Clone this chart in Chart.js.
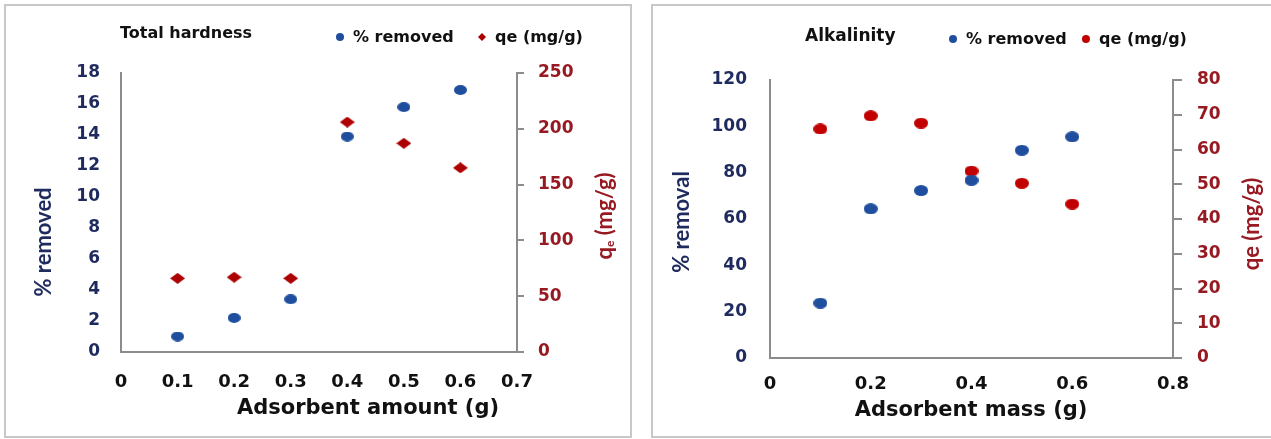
<!DOCTYPE html>
<html>
<head>
<meta charset="utf-8">
<script src="https://cdn.jsdelivr.net/npm/chart.js@4.4.1/dist/chart.umd.min.js"></script>
<style>
  body { margin: 0; background: #fff; width: 1271px; height: 439px; overflow: hidden; position: relative; }
  .panel { position: absolute; top: 4px; height: 430px; border: 2px solid #c8c8c8; background: #fff; }
  #p1 { left: 4px; width: 624px; }
  #p2 { left: 651px; width: 618px; }
  canvas { display: block; }
</style>
</head>
<body>
<div class="panel" id="p1"><canvas id="hardness" width="624" height="430"></canvas></div>
<div class="panel" id="p2"><canvas id="alkalinity" width="618" height="430"></canvas></div>
<script>
// adsorbent dose (g)
const dose = [0.1, 0.2, 0.3, 0.4, 0.5, 0.6];

// total hardness
const hardnessRemoved = [1.0, 2.2, 3.4, 13.9, 15.8, 16.9];
const hardnessQe = [66, 67, 66, 206, 187, 165];

// alkalinity
const alkalinityRemoved = [23.7, 64.4, 72.3, 76.7, 89.7, 95.5];
const alkalinityQe = [65.9, 69.7, 67.6, 53.8, 50.3, 44.3];

// axis ranges: [min, max, step]
const hardnessX = [0, 0.7, 0.1];
const hardnessY = [0, 18, 2];
const hardnessY1 = [0, 250, 50];
const alkalinityX = [0, 0.8, 0.2];
const alkalinityY = [0, 120, 20];
const alkalinityY1 = [0, 80, 10];

const BLUE = '#1f4e9e';
const RED = '#ad0000';
const RED2 = '#c20000';
const NAVY = '#1f2b5e';
const DARKRED = '#971a22';
const AXIS = '#8c8c8c';
const TXT = '#111111';
const WIDE = 'DejaVu Sans';
const NARROW = 'Lato';

const pts = (ys) => dose.map((x, i) => ({ x, y: ys[i] }));

// slightly flattened markers, drawn once and reused as point images
function marker(w, h, color, shape) {
  const c = document.createElement('canvas');
  c.width = w; c.height = h;
  const g = c.getContext('2d');
  g.fillStyle = color;
  g.beginPath();
  if (shape === 'diamond') {
    g.moveTo(w / 2, 0); g.lineTo(w, h / 2); g.lineTo(w / 2, h); g.lineTo(0, h / 2); g.closePath();
  } else {
    g.ellipse(w / 2, h / 2, w / 2, h / 2, 0, 0, Math.PI * 2);
  }
  g.fill();
  return c;
}

// caption, legend and axis titles drawn straight onto the canvas
const decor = {
  id: 'decor',
  afterDraw(chart, args, o) {
    const ctx = chart.ctx;
    ctx.save();
    ctx.textBaseline = 'middle';
    ctx.textAlign = 'left';

    ctx.font = o.captionFont;
    ctx.fillStyle = TXT;
    ctx.fillText(o.caption, o.captionAt[0], o.captionAt[1]);

    ctx.font = o.legendFont;
    chart.data.datasets.forEach((ds, i) => {
      const [x, y] = o.legendAt[i];
      ctx.fillStyle = ds.backgroundColor;
      Chart.helpers.drawPoint(ctx, { pointStyle: ds.legendStyle, radius: o.legendRadius, rotation: 0, borderWidth: 0 }, x, y);
      ctx.fillStyle = TXT;
      ctx.fillText(ds.label, x + 13, y + 1);
    });

    o.titles.forEach(t => {
      ctx.save();
      ctx.translate(t.x, t.y);
      if (t.vertical) ctx.rotate(-Math.PI / 2);
      ctx.fillStyle = t.color;
      let w = 0;
      t.parts.forEach(p => { ctx.font = p.font; w += ctx.measureText(p.text).width; });
      let cx = -w / 2;
      t.parts.forEach(p => {
        ctx.font = p.font;
        ctx.fillText(p.text, cx, p.dy || 0);
        cx += ctx.measureText(p.text).width;
      });
      ctx.restore();
    });
    ctx.restore();
  }
};

function makeScales(xr, yr, y1r, g) {
  return {
    x: {
      type: 'linear', position: 'bottom', min: xr[0], max: xr[1],
      ticks: { stepSize: xr[2], color: TXT, padding: g.xPad, font: { family: WIDE, weight: 'bold', size: 18 } },
      grid: { display: false, drawTicks: false },
      border: { display: true, color: AXIS, width: 2 },
      afterFit: s => { s.height = g.xH; }
    },
    y: {
      type: 'linear', position: 'left', min: yr[0], max: yr[1],
      ticks: { stepSize: yr[2], color: NAVY, padding: g.yPad, font: { family: WIDE, weight: 'bold', size: 17 } },
      grid: { display: false, drawTicks: false },
      border: { display: true, color: AXIS, width: 2 },
      afterFit: s => { s.width = g.yW; }
    },
    y1: {
      type: 'linear', position: 'right', min: y1r[0], max: y1r[1],
      ticks: { stepSize: y1r[2], color: DARKRED, padding: g.y1Pad, font: { family: WIDE, weight: 'bold', size: 17 } },
      grid: { display: true, drawOnChartArea: false, drawTicks: true, tickLength: g.tick, color: AXIS, lineWidth: 2 },
      border: { display: true, color: AXIS, width: 2 },
      afterFit: s => { s.width = g.y1W; }
    }
  };
}

const common = {
  responsive: false,
  animation: false,
  devicePixelRatio: 1,
  events: []
};

new Chart(document.getElementById('hardness'), {
  type: 'scatter',
  data: {
    datasets: [
      { label: '% removed', data: pts(hardnessRemoved), yAxisID: 'y', pointStyle: marker(13, 10, BLUE), legendStyle: 'circle', borderWidth: 0, backgroundColor: BLUE },
      { label: 'qe (mg/g)', data: pts(hardnessQe), yAxisID: 'y1', pointStyle: marker(15, 11, RED, 'diamond'), legendStyle: 'rectRot', borderWidth: 0, backgroundColor: RED }
    ]
  },
  options: {
    ...common,
    layout: { padding: { top: 67, left: 0, right: 0, bottom: 0 } },
    scales: makeScales(hardnessX, hardnessY, hardnessY1, { xH: 84, xPad: 20, yW: 115, yPad: 21, y1W: 113, y1Pad: 14, tick: 7 }),
    plugins: {
      legend: { display: false },
      tooltip: { enabled: false },
      decor: {
        caption: 'Total hardness',
        captionAt: [114, 28],
        captionFont: 'bold 16px "DejaVu Sans"',
        legendFont: 'bold 16px "DejaVu Sans"',
        legendRadius: 4,
        legendAt: [[334, 31], [476, 31]],
        titles: [
          { x: 362, y: 403, color: TXT, parts: [{ text: 'Adsorbent amount (g)', font: 'bold 21px "DejaVu Sans"' }] },
          { x: 38, y: 236, vertical: true, color: NAVY, parts: [{ text: '% removed', font: 'bold 22px ' + NARROW }] },
          { x: 599, y: 210, vertical: true, color: DARKRED, parts: [
            { text: 'q', font: 'bold 22px ' + NARROW },
            { text: 'e', font: 'bold 12px ' + NARROW, dy: 5 },
            { text: ' (mg/g)', font: 'bold 22px ' + NARROW }
          ] }
        ]
      }
    }
  },
  plugins: [decor]
});

new Chart(document.getElementById('alkalinity'), {
  type: 'scatter',
  data: {
    datasets: [
      { label: '% removed', data: pts(alkalinityRemoved), yAxisID: 'y', pointStyle: marker(14, 11, BLUE), legendStyle: 'circle', borderWidth: 0, backgroundColor: BLUE },
      { label: 'qe (mg/g)', data: pts(alkalinityQe), yAxisID: 'y1', pointStyle: marker(14, 11, RED2), legendStyle: 'circle', borderWidth: 0, backgroundColor: RED2 }
    ]
  },
  options: {
    ...common,
    layout: { padding: { top: 74, left: 0, right: 0, bottom: 0 } },
    scales: makeScales(alkalinityX, alkalinityY, alkalinityY1, { xH: 78, xPad: 16, yW: 117, yPad: 23, y1W: 98, y1Pad: 15, tick: 9 }),
    plugins: {
      legend: { display: false },
      tooltip: { enabled: false },
      decor: {
        caption: 'Alkalinity',
        captionAt: [152, 31],
        captionFont: 'bold 17px "DejaVu Sans"',
        legendFont: 'bold 16px "DejaVu Sans"',
        legendRadius: 4,
        legendAt: [[300, 33], [433, 33]],
        titles: [
          { x: 318, y: 405, color: TXT, parts: [{ text: 'Adsorbent mass (g)', font: 'bold 21px "DejaVu Sans"' }] },
          { x: 29, y: 216, vertical: true, color: NAVY, parts: [{ text: '% removal', font: 'bold 22px ' + NARROW }] },
          { x: 599, y: 218, vertical: true, color: DARKRED, parts: [{ text: 'qe (mg/g)', font: 'bold 22px ' + NARROW }] }
        ]
      }
    }
  },
  plugins: [decor]
});
</script>
</body>
</html>
